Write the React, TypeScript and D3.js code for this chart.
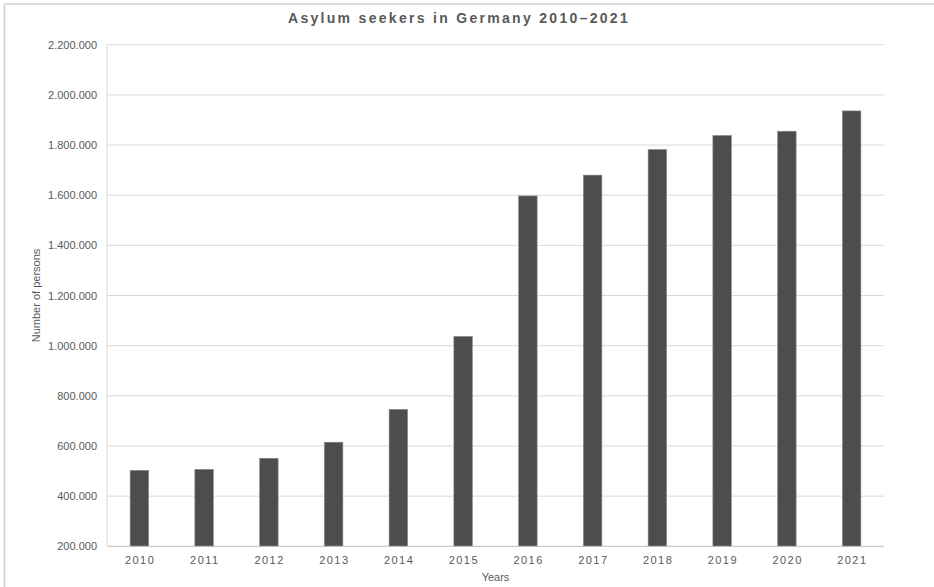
import React from "react";
import * as d3 from "d3";

const years = ["2010","2011","2012","2013","2014","2015","2016","2017","2018","2019","2020","2021"];
const values = [503000, 507000, 551000, 615000, 746000, 1037000, 1597000, 1680000, 1782000, 1838000, 1855000, 1936000];
const yTicks = [200000, 400000, 600000, 800000, 1000000, 1200000, 1400000, 1600000, 1800000, 2000000, 2200000];
const title = "Asylum seekers in Germany 2010–2021";
const xTitle = "Years";
const yTitle = "Number of persons";

const W = 934, H = 587;
const left = 107, right = 884, top = 44.7, bottom = 546.3;

const fmt = d3.formatLocale({ thousands: ".", grouping: [3], decimal: ",", currency: ["", ""] }).format(",");

export default function App() {
  const x = d3.scaleBand<string>().domain(years).range([left, right]).paddingInner(0.714).paddingOuter(0.357);
  const y = d3.scaleLinear().domain([200000, 2200000]).range([bottom, top]);
  const font = "Arial, 'Liberation Sans', sans-serif";
  return (
    <svg width={W} height={H} style={{ position: "absolute", left: 0, top: 0, background: "#fff" }} fontFamily={font}>
      <rect x={0} y={0} width={W} height={H} fill="#fff" />
      <line x1={4.5} y1={4} x2={W} y2={4} stroke="#cfcfcf" strokeWidth={1.5} />
      <line x1={4.5} y1={4} x2={4.5} y2={H} stroke="#cfcfcf" strokeWidth={1.5} />
      <text x={459} y={23} textAnchor="middle" fontSize={14} fontWeight="bold" fill="#595959" letterSpacing={2.3}>{title}</text>
      {yTicks.map((t) => (
        <g key={t}>
          {t !== 200000 && <line x1={left} x2={right} y1={y(t)} y2={y(t)} stroke="#d9d9d9" strokeWidth={1} />}
          <text x={97} y={y(t) + 4} textAnchor="end" fontSize={11} fill="#595959">{fmt(t)}</text>
        </g>
      ))}
      <line x1={left} x2={left} y1={top} y2={bottom} stroke="#d9d9d9" strokeWidth={1} />
      {values.map((v, i) => (
        <rect key={years[i]} x={x(years[i])} y={y(v)} width={x.bandwidth()} height={bottom - y(v)} fill="#4d4d4d" stroke="#8c8c8c" strokeWidth={0.6} />
      ))}
      <line x1={left} x2={right} y1={bottom} y2={bottom} stroke="#bfbfbf" strokeWidth={1} />
      {years.map((yr) => (
        <text key={yr} x={(x(yr) as number) + x.bandwidth() / 2 + 0.75} y={564} textAnchor="middle" fontSize={11} fill="#595959" letterSpacing={1.5}>{yr}</text>
      ))}
      <text x={(left + right) / 2} y={581} textAnchor="middle" fontSize={11} fill="#595959">{xTitle}</text>
      <text transform={`translate(40,${(top + bottom) / 2}) rotate(-90)`} textAnchor="middle" fontSize={11} fill="#595959">{yTitle}</text>
    </svg>
  );
}
